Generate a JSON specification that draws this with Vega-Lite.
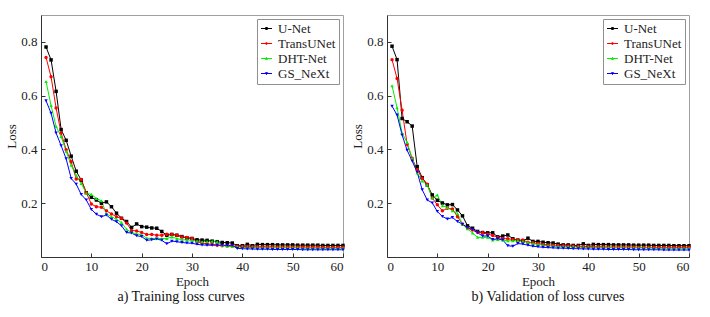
{
"$schema": "https://vega.github.io/schema/vega-lite/v6.json",
"padding": {"left": 5, "top": 14, "right": 5, "bottom": 5},
"background": "white",
"config": {
  "font": "Liberation Serif",
  "view": {"stroke": "#a0a0a0", "strokeWidth": 1},
  "axis": {"labelFont": "Liberation Serif", "titleFont": "Liberation Serif", "labelFontSize": 13, "titleFontSize": 13, "titleFontWeight": "normal", "labelColor": "#222", "titleColor": "#222", "domainColor": "#333", "tickColor": "#333", "grid": false, "tickSize": -4},
  "axisX": {"labelPadding": 7, "titlePadding": 2},
  "axisY": {"labelPadding": 8, "titlePadding": 2},
  "legend": {"labelFont": "Liberation Serif", "labelFontSize": 13, "labelColor": "#222"},
  "title": {"font": "Liberation Serif", "fontSize": 14, "fontWeight": "normal", "orient": "bottom", "color": "#111"}
},
"spacing": 5,
"resolve": {"scale": {"color": "independent"}, "legend": {"color": "independent"}},
"datasets": {
"train": [
{"model":"U-Net","epoch":1,"loss":0.781},{"model":"U-Net","epoch":2,"loss":0.733},{"model":"U-Net","epoch":3,"loss":0.616},{"model":"U-Net","epoch":4,"loss":0.474},{"model":"U-Net","epoch":5,"loss":0.434},{"model":"U-Net","epoch":6,"loss":0.375},{"model":"U-Net","epoch":7,"loss":0.319},{"model":"U-Net","epoch":8,"loss":0.286},{"model":"U-Net","epoch":9,"loss":0.239},{"model":"U-Net","epoch":10,"loss":0.222},
{"model":"U-Net","epoch":11,"loss":0.212},{"model":"U-Net","epoch":12,"loss":0.200},{"model":"U-Net","epoch":13,"loss":0.205},{"model":"U-Net","epoch":14,"loss":0.187},{"model":"U-Net","epoch":15,"loss":0.163},{"model":"U-Net","epoch":16,"loss":0.144},{"model":"U-Net","epoch":17,"loss":0.132},{"model":"U-Net","epoch":18,"loss":0.110},{"model":"U-Net","epoch":19,"loss":0.123},{"model":"U-Net","epoch":20,"loss":0.113},
{"model":"U-Net","epoch":21,"loss":0.111},{"model":"U-Net","epoch":22,"loss":0.108},{"model":"U-Net","epoch":23,"loss":0.107},{"model":"U-Net","epoch":24,"loss":0.095},{"model":"U-Net","epoch":25,"loss":0.081},{"model":"U-Net","epoch":26,"loss":0.084},{"model":"U-Net","epoch":27,"loss":0.081},{"model":"U-Net","epoch":28,"loss":0.076},{"model":"U-Net","epoch":29,"loss":0.071},{"model":"U-Net","epoch":30,"loss":0.069},
{"model":"U-Net","epoch":31,"loss":0.064},{"model":"U-Net","epoch":32,"loss":0.063},{"model":"U-Net","epoch":33,"loss":0.062},{"model":"U-Net","epoch":34,"loss":0.059},{"model":"U-Net","epoch":35,"loss":0.057},{"model":"U-Net","epoch":36,"loss":0.054},{"model":"U-Net","epoch":37,"loss":0.053},{"model":"U-Net","epoch":38,"loss":0.052},{"model":"U-Net","epoch":39,"loss":0.042},{"model":"U-Net","epoch":40,"loss":0.042},
{"model":"U-Net","epoch":41,"loss":0.047},{"model":"U-Net","epoch":42,"loss":0.042},{"model":"U-Net","epoch":43,"loss":0.047},{"model":"U-Net","epoch":44,"loss":0.046},{"model":"U-Net","epoch":45,"loss":0.046},{"model":"U-Net","epoch":46,"loss":0.046},{"model":"U-Net","epoch":47,"loss":0.045},{"model":"U-Net","epoch":48,"loss":0.045},{"model":"U-Net","epoch":49,"loss":0.045},{"model":"U-Net","epoch":50,"loss":0.045},
{"model":"U-Net","epoch":51,"loss":0.044},{"model":"U-Net","epoch":52,"loss":0.044},{"model":"U-Net","epoch":53,"loss":0.044},{"model":"U-Net","epoch":54,"loss":0.044},{"model":"U-Net","epoch":55,"loss":0.044},{"model":"U-Net","epoch":56,"loss":0.043},{"model":"U-Net","epoch":57,"loss":0.043},{"model":"U-Net","epoch":58,"loss":0.043},{"model":"U-Net","epoch":59,"loss":0.043},{"model":"U-Net","epoch":60,"loss":0.043},
{"model":"TransUNet","epoch":1,"loss":0.742},{"model":"TransUNet","epoch":2,"loss":0.670},{"model":"TransUNet","epoch":3,"loss":0.554},{"model":"TransUNet","epoch":4,"loss":0.461},{"model":"TransUNet","epoch":5,"loss":0.399},{"model":"TransUNet","epoch":6,"loss":0.354},{"model":"TransUNet","epoch":7,"loss":0.290},{"model":"TransUNet","epoch":8,"loss":0.288},{"model":"TransUNet","epoch":9,"loss":0.239},{"model":"TransUNet","epoch":10,"loss":0.197},
{"model":"TransUNet","epoch":11,"loss":0.187},{"model":"TransUNet","epoch":12,"loss":0.185},{"model":"TransUNet","epoch":13,"loss":0.172},{"model":"TransUNet","epoch":14,"loss":0.160},{"model":"TransUNet","epoch":15,"loss":0.150},{"model":"TransUNet","epoch":16,"loss":0.143},{"model":"TransUNet","epoch":17,"loss":0.126},{"model":"TransUNet","epoch":18,"loss":0.099},{"model":"TransUNet","epoch":19,"loss":0.097},{"model":"TransUNet","epoch":20,"loss":0.091},
{"model":"TransUNet","epoch":21,"loss":0.084},{"model":"TransUNet","epoch":22,"loss":0.084},{"model":"TransUNet","epoch":23,"loss":0.081},{"model":"TransUNet","epoch":24,"loss":0.081},{"model":"TransUNet","epoch":25,"loss":0.085},{"model":"TransUNet","epoch":26,"loss":0.084},{"model":"TransUNet","epoch":27,"loss":0.081},{"model":"TransUNet","epoch":28,"loss":0.074},{"model":"TransUNet","epoch":29,"loss":0.073},{"model":"TransUNet","epoch":30,"loss":0.069},
{"model":"TransUNet","epoch":31,"loss":0.057},{"model":"TransUNet","epoch":32,"loss":0.052},{"model":"TransUNet","epoch":33,"loss":0.049},{"model":"TransUNet","epoch":34,"loss":0.047},{"model":"TransUNet","epoch":35,"loss":0.044},{"model":"TransUNet","epoch":36,"loss":0.042},{"model":"TransUNet","epoch":37,"loss":0.042},{"model":"TransUNet","epoch":38,"loss":0.041},{"model":"TransUNet","epoch":39,"loss":0.040},{"model":"TransUNet","epoch":40,"loss":0.039},
{"model":"TransUNet","epoch":41,"loss":0.039},{"model":"TransUNet","epoch":42,"loss":0.038},{"model":"TransUNet","epoch":43,"loss":0.038},{"model":"TransUNet","epoch":44,"loss":0.038},{"model":"TransUNet","epoch":45,"loss":0.038},{"model":"TransUNet","epoch":46,"loss":0.038},{"model":"TransUNet","epoch":47,"loss":0.037},{"model":"TransUNet","epoch":48,"loss":0.037},{"model":"TransUNet","epoch":49,"loss":0.037},{"model":"TransUNet","epoch":50,"loss":0.037},
{"model":"TransUNet","epoch":51,"loss":0.037},{"model":"TransUNet","epoch":52,"loss":0.037},{"model":"TransUNet","epoch":53,"loss":0.037},{"model":"TransUNet","epoch":54,"loss":0.037},{"model":"TransUNet","epoch":55,"loss":0.037},{"model":"TransUNet","epoch":56,"loss":0.036},{"model":"TransUNet","epoch":57,"loss":0.036},{"model":"TransUNet","epoch":58,"loss":0.036},{"model":"TransUNet","epoch":59,"loss":0.036},{"model":"TransUNet","epoch":60,"loss":0.036},
{"model":"DHT-Net","epoch":1,"loss":0.653},{"model":"DHT-Net","epoch":2,"loss":0.563},{"model":"DHT-Net","epoch":3,"loss":0.485},{"model":"DHT-Net","epoch":4,"loss":0.448},{"model":"DHT-Net","epoch":5,"loss":0.393},{"model":"DHT-Net","epoch":6,"loss":0.341},{"model":"DHT-Net","epoch":7,"loss":0.304},{"model":"DHT-Net","epoch":8,"loss":0.273},{"model":"DHT-Net","epoch":9,"loss":0.237},{"model":"DHT-Net","epoch":10,"loss":0.233},
{"model":"DHT-Net","epoch":11,"loss":0.218},{"model":"DHT-Net","epoch":12,"loss":0.209},{"model":"DHT-Net","epoch":13,"loss":0.160},{"model":"DHT-Net","epoch":14,"loss":0.150},{"model":"DHT-Net","epoch":15,"loss":0.140},{"model":"DHT-Net","epoch":16,"loss":0.128},{"model":"DHT-Net","epoch":17,"loss":0.103},{"model":"DHT-Net","epoch":18,"loss":0.091},{"model":"DHT-Net","epoch":19,"loss":0.086},{"model":"DHT-Net","epoch":20,"loss":0.083},
{"model":"DHT-Net","epoch":21,"loss":0.070},{"model":"DHT-Net","epoch":22,"loss":0.069},{"model":"DHT-Net","epoch":23,"loss":0.069},{"model":"DHT-Net","epoch":24,"loss":0.069},{"model":"DHT-Net","epoch":25,"loss":0.069},{"model":"DHT-Net","epoch":26,"loss":0.074},{"model":"DHT-Net","epoch":27,"loss":0.069},{"model":"DHT-Net","epoch":28,"loss":0.064},{"model":"DHT-Net","epoch":29,"loss":0.064},{"model":"DHT-Net","epoch":30,"loss":0.062},
{"model":"DHT-Net","epoch":31,"loss":0.059},{"model":"DHT-Net","epoch":32,"loss":0.057},{"model":"DHT-Net","epoch":33,"loss":0.058},{"model":"DHT-Net","epoch":34,"loss":0.059},{"model":"DHT-Net","epoch":35,"loss":0.057},{"model":"DHT-Net","epoch":36,"loss":0.044},{"model":"DHT-Net","epoch":37,"loss":0.040},{"model":"DHT-Net","epoch":38,"loss":0.039},{"model":"DHT-Net","epoch":39,"loss":0.038},{"model":"DHT-Net","epoch":40,"loss":0.036},
{"model":"DHT-Net","epoch":41,"loss":0.035},{"model":"DHT-Net","epoch":42,"loss":0.035},{"model":"DHT-Net","epoch":43,"loss":0.035},{"model":"DHT-Net","epoch":44,"loss":0.034},{"model":"DHT-Net","epoch":45,"loss":0.034},{"model":"DHT-Net","epoch":46,"loss":0.034},{"model":"DHT-Net","epoch":47,"loss":0.034},{"model":"DHT-Net","epoch":48,"loss":0.034},{"model":"DHT-Net","epoch":49,"loss":0.034},{"model":"DHT-Net","epoch":50,"loss":0.034},
{"model":"DHT-Net","epoch":51,"loss":0.034},{"model":"DHT-Net","epoch":52,"loss":0.033},{"model":"DHT-Net","epoch":53,"loss":0.033},{"model":"DHT-Net","epoch":54,"loss":0.033},{"model":"DHT-Net","epoch":55,"loss":0.033},{"model":"DHT-Net","epoch":56,"loss":0.033},{"model":"DHT-Net","epoch":57,"loss":0.033},{"model":"DHT-Net","epoch":58,"loss":0.033},{"model":"DHT-Net","epoch":59,"loss":0.033},{"model":"DHT-Net","epoch":60,"loss":0.033},
{"model":"GS_NeXt","epoch":1,"loss":0.581},{"model":"GS_NeXt","epoch":2,"loss":0.535},{"model":"GS_NeXt","epoch":3,"loss":0.461},{"model":"GS_NeXt","epoch":4,"loss":0.414},{"model":"GS_NeXt","epoch":5,"loss":0.365},{"model":"GS_NeXt","epoch":6,"loss":0.292},{"model":"GS_NeXt","epoch":7,"loss":0.271},{"model":"GS_NeXt","epoch":8,"loss":0.232},{"model":"GS_NeXt","epoch":9,"loss":0.212},{"model":"GS_NeXt","epoch":10,"loss":0.177},
{"model":"GS_NeXt","epoch":11,"loss":0.159},{"model":"GS_NeXt","epoch":12,"loss":0.150},{"model":"GS_NeXt","epoch":13,"loss":0.156},{"model":"GS_NeXt","epoch":14,"loss":0.140},{"model":"GS_NeXt","epoch":15,"loss":0.131},{"model":"GS_NeXt","epoch":16,"loss":0.116},{"model":"GS_NeXt","epoch":17,"loss":0.091},{"model":"GS_NeXt","epoch":18,"loss":0.089},{"model":"GS_NeXt","epoch":19,"loss":0.079},{"model":"GS_NeXt","epoch":20,"loss":0.076},
{"model":"GS_NeXt","epoch":21,"loss":0.062},{"model":"GS_NeXt","epoch":22,"loss":0.064},{"model":"GS_NeXt","epoch":23,"loss":0.067},{"model":"GS_NeXt","epoch":24,"loss":0.062},{"model":"GS_NeXt","epoch":25,"loss":0.049},{"model":"GS_NeXt","epoch":26,"loss":0.059},{"model":"GS_NeXt","epoch":27,"loss":0.057},{"model":"GS_NeXt","epoch":28,"loss":0.054},{"model":"GS_NeXt","epoch":29,"loss":0.052},{"model":"GS_NeXt","epoch":30,"loss":0.051},
{"model":"GS_NeXt","epoch":31,"loss":0.047},{"model":"GS_NeXt","epoch":32,"loss":0.045},{"model":"GS_NeXt","epoch":33,"loss":0.044},{"model":"GS_NeXt","epoch":34,"loss":0.044},{"model":"GS_NeXt","epoch":35,"loss":0.044},{"model":"GS_NeXt","epoch":36,"loss":0.044},{"model":"GS_NeXt","epoch":37,"loss":0.043},{"model":"GS_NeXt","epoch":38,"loss":0.043},{"model":"GS_NeXt","epoch":39,"loss":0.032},{"model":"GS_NeXt","epoch":40,"loss":0.031},
{"model":"GS_NeXt","epoch":41,"loss":0.030},{"model":"GS_NeXt","epoch":42,"loss":0.030},{"model":"GS_NeXt","epoch":43,"loss":0.029},{"model":"GS_NeXt","epoch":44,"loss":0.029},{"model":"GS_NeXt","epoch":45,"loss":0.029},{"model":"GS_NeXt","epoch":46,"loss":0.028},{"model":"GS_NeXt","epoch":47,"loss":0.028},{"model":"GS_NeXt","epoch":48,"loss":0.028},{"model":"GS_NeXt","epoch":49,"loss":0.028},{"model":"GS_NeXt","epoch":50,"loss":0.028},
{"model":"GS_NeXt","epoch":51,"loss":0.028},{"model":"GS_NeXt","epoch":52,"loss":0.027},{"model":"GS_NeXt","epoch":53,"loss":0.027},{"model":"GS_NeXt","epoch":54,"loss":0.027},{"model":"GS_NeXt","epoch":55,"loss":0.027},{"model":"GS_NeXt","epoch":56,"loss":0.027},{"model":"GS_NeXt","epoch":57,"loss":0.027},{"model":"GS_NeXt","epoch":58,"loss":0.027},{"model":"GS_NeXt","epoch":59,"loss":0.027},{"model":"GS_NeXt","epoch":60,"loss":0.027}
],
"val": [
{"model":"U-Net","epoch":1,"loss":0.784},{"model":"U-Net","epoch":2,"loss":0.734},{"model":"U-Net","epoch":3,"loss":0.515},{"model":"U-Net","epoch":4,"loss":0.503},{"model":"U-Net","epoch":5,"loss":0.487},{"model":"U-Net","epoch":6,"loss":0.336},{"model":"U-Net","epoch":7,"loss":0.295},{"model":"U-Net","epoch":8,"loss":0.268},{"model":"U-Net","epoch":9,"loss":0.231},{"model":"U-Net","epoch":10,"loss":0.211},
{"model":"U-Net","epoch":11,"loss":0.201},{"model":"U-Net","epoch":12,"loss":0.194},{"model":"U-Net","epoch":13,"loss":0.195},{"model":"U-Net","epoch":14,"loss":0.175},{"model":"U-Net","epoch":15,"loss":0.153},{"model":"U-Net","epoch":16,"loss":0.116},{"model":"U-Net","epoch":17,"loss":0.107},{"model":"U-Net","epoch":18,"loss":0.095},{"model":"U-Net","epoch":19,"loss":0.091},{"model":"U-Net","epoch":20,"loss":0.090},
{"model":"U-Net","epoch":21,"loss":0.090},{"model":"U-Net","epoch":22,"loss":0.075},{"model":"U-Net","epoch":23,"loss":0.078},{"model":"U-Net","epoch":24,"loss":0.082},{"model":"U-Net","epoch":25,"loss":0.068},{"model":"U-Net","epoch":26,"loss":0.063},{"model":"U-Net","epoch":27,"loss":0.060},{"model":"U-Net","epoch":28,"loss":0.070},{"model":"U-Net","epoch":29,"loss":0.058},{"model":"U-Net","epoch":30,"loss":0.058},
{"model":"U-Net","epoch":31,"loss":0.055},{"model":"U-Net","epoch":32,"loss":0.053},{"model":"U-Net","epoch":33,"loss":0.052},{"model":"U-Net","epoch":34,"loss":0.048},{"model":"U-Net","epoch":35,"loss":0.045},{"model":"U-Net","epoch":36,"loss":0.045},{"model":"U-Net","epoch":37,"loss":0.043},{"model":"U-Net","epoch":38,"loss":0.043},{"model":"U-Net","epoch":39,"loss":0.049},{"model":"U-Net","epoch":40,"loss":0.043},
{"model":"U-Net","epoch":41,"loss":0.047},{"model":"U-Net","epoch":42,"loss":0.046},{"model":"U-Net","epoch":43,"loss":0.046},{"model":"U-Net","epoch":44,"loss":0.046},{"model":"U-Net","epoch":45,"loss":0.045},{"model":"U-Net","epoch":46,"loss":0.045},{"model":"U-Net","epoch":47,"loss":0.045},{"model":"U-Net","epoch":48,"loss":0.045},{"model":"U-Net","epoch":49,"loss":0.044},{"model":"U-Net","epoch":50,"loss":0.044},
{"model":"U-Net","epoch":51,"loss":0.044},{"model":"U-Net","epoch":52,"loss":0.044},{"model":"U-Net","epoch":53,"loss":0.043},{"model":"U-Net","epoch":54,"loss":0.043},{"model":"U-Net","epoch":55,"loss":0.043},{"model":"U-Net","epoch":56,"loss":0.043},{"model":"U-Net","epoch":57,"loss":0.042},{"model":"U-Net","epoch":58,"loss":0.042},{"model":"U-Net","epoch":59,"loss":0.042},{"model":"U-Net","epoch":60,"loss":0.042},
{"model":"TransUNet","epoch":1,"loss":0.734},{"model":"TransUNet","epoch":2,"loss":0.664},{"model":"TransUNet","epoch":3,"loss":0.546},{"model":"TransUNet","epoch":4,"loss":0.419},{"model":"TransUNet","epoch":5,"loss":0.367},{"model":"TransUNet","epoch":6,"loss":0.324},{"model":"TransUNet","epoch":7,"loss":0.293},{"model":"TransUNet","epoch":8,"loss":0.271},{"model":"TransUNet","epoch":9,"loss":0.219},{"model":"TransUNet","epoch":10,"loss":0.194},
{"model":"TransUNet","epoch":11,"loss":0.172},{"model":"TransUNet","epoch":12,"loss":0.181},{"model":"TransUNet","epoch":13,"loss":0.179},{"model":"TransUNet","epoch":14,"loss":0.150},{"model":"TransUNet","epoch":15,"loss":0.122},{"model":"TransUNet","epoch":16,"loss":0.107},{"model":"TransUNet","epoch":17,"loss":0.100},{"model":"TransUNet","epoch":18,"loss":0.092},{"model":"TransUNet","epoch":19,"loss":0.090},{"model":"TransUNet","epoch":20,"loss":0.085},
{"model":"TransUNet","epoch":21,"loss":0.080},{"model":"TransUNet","epoch":22,"loss":0.073},{"model":"TransUNet","epoch":23,"loss":0.068},{"model":"TransUNet","epoch":24,"loss":0.068},{"model":"TransUNet","epoch":25,"loss":0.065},{"model":"TransUNet","epoch":26,"loss":0.063},{"model":"TransUNet","epoch":27,"loss":0.063},{"model":"TransUNet","epoch":28,"loss":0.055},{"model":"TransUNet","epoch":29,"loss":0.053},{"model":"TransUNet","epoch":30,"loss":0.050},
{"model":"TransUNet","epoch":31,"loss":0.047},{"model":"TransUNet","epoch":32,"loss":0.045},{"model":"TransUNet","epoch":33,"loss":0.044},{"model":"TransUNet","epoch":34,"loss":0.043},{"model":"TransUNet","epoch":35,"loss":0.042},{"model":"TransUNet","epoch":36,"loss":0.041},{"model":"TransUNet","epoch":37,"loss":0.040},{"model":"TransUNet","epoch":38,"loss":0.040},{"model":"TransUNet","epoch":39,"loss":0.039},{"model":"TransUNet","epoch":40,"loss":0.039},
{"model":"TransUNet","epoch":41,"loss":0.038},{"model":"TransUNet","epoch":42,"loss":0.038},{"model":"TransUNet","epoch":43,"loss":0.038},{"model":"TransUNet","epoch":44,"loss":0.037},{"model":"TransUNet","epoch":45,"loss":0.037},{"model":"TransUNet","epoch":46,"loss":0.037},{"model":"TransUNet","epoch":47,"loss":0.037},{"model":"TransUNet","epoch":48,"loss":0.037},{"model":"TransUNet","epoch":49,"loss":0.037},{"model":"TransUNet","epoch":50,"loss":0.036},
{"model":"TransUNet","epoch":51,"loss":0.036},{"model":"TransUNet","epoch":52,"loss":0.036},{"model":"TransUNet","epoch":53,"loss":0.036},{"model":"TransUNet","epoch":54,"loss":0.036},{"model":"TransUNet","epoch":55,"loss":0.036},{"model":"TransUNet","epoch":56,"loss":0.036},{"model":"TransUNet","epoch":57,"loss":0.036},{"model":"TransUNet","epoch":58,"loss":0.036},{"model":"TransUNet","epoch":59,"loss":0.036},{"model":"TransUNet","epoch":60,"loss":0.036},
{"model":"DHT-Net","epoch":1,"loss":0.637},{"model":"DHT-Net","epoch":2,"loss":0.555},{"model":"DHT-Net","epoch":3,"loss":0.460},{"model":"DHT-Net","epoch":4,"loss":0.426},{"model":"DHT-Net","epoch":5,"loss":0.367},{"model":"DHT-Net","epoch":6,"loss":0.312},{"model":"DHT-Net","epoch":7,"loss":0.283},{"model":"DHT-Net","epoch":8,"loss":0.268},{"model":"DHT-Net","epoch":9,"loss":0.219},{"model":"DHT-Net","epoch":10,"loss":0.231},
{"model":"DHT-Net","epoch":11,"loss":0.191},{"model":"DHT-Net","epoch":12,"loss":0.184},{"model":"DHT-Net","epoch":13,"loss":0.172},{"model":"DHT-Net","epoch":14,"loss":0.162},{"model":"DHT-Net","epoch":15,"loss":0.122},{"model":"DHT-Net","epoch":16,"loss":0.105},{"model":"DHT-Net","epoch":17,"loss":0.089},{"model":"DHT-Net","epoch":18,"loss":0.073},{"model":"DHT-Net","epoch":19,"loss":0.073},{"model":"DHT-Net","epoch":20,"loss":0.073},
{"model":"DHT-Net","epoch":21,"loss":0.063},{"model":"DHT-Net","epoch":22,"loss":0.065},{"model":"DHT-Net","epoch":23,"loss":0.063},{"model":"DHT-Net","epoch":24,"loss":0.060},{"model":"DHT-Net","epoch":25,"loss":0.060},{"model":"DHT-Net","epoch":26,"loss":0.060},{"model":"DHT-Net","epoch":27,"loss":0.058},{"model":"DHT-Net","epoch":28,"loss":0.055},{"model":"DHT-Net","epoch":29,"loss":0.050},{"model":"DHT-Net","epoch":30,"loss":0.047},
{"model":"DHT-Net","epoch":31,"loss":0.044},{"model":"DHT-Net","epoch":32,"loss":0.042},{"model":"DHT-Net","epoch":33,"loss":0.041},{"model":"DHT-Net","epoch":34,"loss":0.040},{"model":"DHT-Net","epoch":35,"loss":0.039},{"model":"DHT-Net","epoch":36,"loss":0.038},{"model":"DHT-Net","epoch":37,"loss":0.038},{"model":"DHT-Net","epoch":38,"loss":0.037},{"model":"DHT-Net","epoch":39,"loss":0.036},{"model":"DHT-Net","epoch":40,"loss":0.036},
{"model":"DHT-Net","epoch":41,"loss":0.035},{"model":"DHT-Net","epoch":42,"loss":0.035},{"model":"DHT-Net","epoch":43,"loss":0.035},{"model":"DHT-Net","epoch":44,"loss":0.035},{"model":"DHT-Net","epoch":45,"loss":0.034},{"model":"DHT-Net","epoch":46,"loss":0.034},{"model":"DHT-Net","epoch":47,"loss":0.034},{"model":"DHT-Net","epoch":48,"loss":0.034},{"model":"DHT-Net","epoch":49,"loss":0.034},{"model":"DHT-Net","epoch":50,"loss":0.034},
{"model":"DHT-Net","epoch":51,"loss":0.034},{"model":"DHT-Net","epoch":52,"loss":0.034},{"model":"DHT-Net","epoch":53,"loss":0.033},{"model":"DHT-Net","epoch":54,"loss":0.033},{"model":"DHT-Net","epoch":55,"loss":0.033},{"model":"DHT-Net","epoch":56,"loss":0.033},{"model":"DHT-Net","epoch":57,"loss":0.033},{"model":"DHT-Net","epoch":58,"loss":0.033},{"model":"DHT-Net","epoch":59,"loss":0.033},{"model":"DHT-Net","epoch":60,"loss":0.033},
{"model":"GS_NeXt","epoch":1,"loss":0.561},{"model":"GS_NeXt","epoch":2,"loss":0.528},{"model":"GS_NeXt","epoch":3,"loss":0.454},{"model":"GS_NeXt","epoch":4,"loss":0.397},{"model":"GS_NeXt","epoch":5,"loss":0.357},{"model":"GS_NeXt","epoch":6,"loss":0.315},{"model":"GS_NeXt","epoch":7,"loss":0.250},{"model":"GS_NeXt","epoch":8,"loss":0.212},{"model":"GS_NeXt","epoch":9,"loss":0.201},{"model":"GS_NeXt","epoch":10,"loss":0.169},
{"model":"GS_NeXt","epoch":11,"loss":0.151},{"model":"GS_NeXt","epoch":12,"loss":0.141},{"model":"GS_NeXt","epoch":13,"loss":0.147},{"model":"GS_NeXt","epoch":14,"loss":0.132},{"model":"GS_NeXt","epoch":15,"loss":0.122},{"model":"GS_NeXt","epoch":16,"loss":0.110},{"model":"GS_NeXt","epoch":17,"loss":0.102},{"model":"GS_NeXt","epoch":18,"loss":0.090},{"model":"GS_NeXt","epoch":19,"loss":0.078},{"model":"GS_NeXt","epoch":20,"loss":0.078},
{"model":"GS_NeXt","epoch":21,"loss":0.065},{"model":"GS_NeXt","epoch":22,"loss":0.068},{"model":"GS_NeXt","epoch":23,"loss":0.063},{"model":"GS_NeXt","epoch":24,"loss":0.042},{"model":"GS_NeXt","epoch":25,"loss":0.040},{"model":"GS_NeXt","epoch":26,"loss":0.050},{"model":"GS_NeXt","epoch":27,"loss":0.048},{"model":"GS_NeXt","epoch":28,"loss":0.044},{"model":"GS_NeXt","epoch":29,"loss":0.040},{"model":"GS_NeXt","epoch":30,"loss":0.038},
{"model":"GS_NeXt","epoch":31,"loss":0.036},{"model":"GS_NeXt","epoch":32,"loss":0.035},{"model":"GS_NeXt","epoch":33,"loss":0.034},{"model":"GS_NeXt","epoch":34,"loss":0.033},{"model":"GS_NeXt","epoch":35,"loss":0.033},{"model":"GS_NeXt","epoch":36,"loss":0.032},{"model":"GS_NeXt","epoch":37,"loss":0.031},{"model":"GS_NeXt","epoch":38,"loss":0.031},{"model":"GS_NeXt","epoch":39,"loss":0.030},{"model":"GS_NeXt","epoch":40,"loss":0.030},
{"model":"GS_NeXt","epoch":41,"loss":0.029},{"model":"GS_NeXt","epoch":42,"loss":0.029},{"model":"GS_NeXt","epoch":43,"loss":0.029},{"model":"GS_NeXt","epoch":44,"loss":0.028},{"model":"GS_NeXt","epoch":45,"loss":0.028},{"model":"GS_NeXt","epoch":46,"loss":0.028},{"model":"GS_NeXt","epoch":47,"loss":0.028},{"model":"GS_NeXt","epoch":48,"loss":0.028},{"model":"GS_NeXt","epoch":49,"loss":0.027},{"model":"GS_NeXt","epoch":50,"loss":0.027},
{"model":"GS_NeXt","epoch":51,"loss":0.027},{"model":"GS_NeXt","epoch":52,"loss":0.027},{"model":"GS_NeXt","epoch":53,"loss":0.027},{"model":"GS_NeXt","epoch":54,"loss":0.027},{"model":"GS_NeXt","epoch":55,"loss":0.026},{"model":"GS_NeXt","epoch":56,"loss":0.026},{"model":"GS_NeXt","epoch":57,"loss":0.026},{"model":"GS_NeXt","epoch":58,"loss":0.026},{"model":"GS_NeXt","epoch":59,"loss":0.026},{"model":"GS_NeXt","epoch":60,"loss":0.026}
]
},
"hconcat": [
{
  "width": 302, "height": 242,
  "data": {"name": "train"},
  "title": {"text": "a) Training loss curves", "dx": -11, "offset": 2},
  "encoding": {
    "x": {"field": "epoch", "type": "quantitative", "scale": {"domain": [0, 60], "nice": false}, "axis": {"values": [0, 10, 20, 30, 40, 50, 60], "title": "Epoch"}},
    "y": {"field": "loss", "type": "quantitative", "scale": {"domain": [0, 0.9], "nice": false}, "axis": {"values": [0.2, 0.4, 0.6, 0.8], "format": ".1f", "title": "Loss"}},
    "color": {"field": "model", "type": "nominal", "scale": {"domain": ["U-Net", "TransUNet", "DHT-Net", "GS_NeXt"], "range": ["#000000", "#ff0000", "#00f000", "#0000ff"]},
      "legend": {"title": null, "orient": "top-right", "offset": 4, "strokeColor": "#909090", "padding": 3, "symbolSize": 121, "symbolStrokeWidth": 1, "rowPadding": 1, "labelOffset": 5,
        "encode": {"symbols": {"update": {
          "shape": {"signal": "datum.value==='U-Net'?'M-1,0H1M-0.17,-0.17H0.17V0.17H-0.17Z':datum.value==='TransUNet'?'M-1,0H1M-0.17,0A0.17,0.17 0 1,0 0.17,0A0.17,0.17 0 1,0 -0.17,0Z':datum.value==='DHT-Net'?'M-1,0H1M0,-0.2L0.2,0.15L-0.2,0.15Z':'M-1,0H1M0,0.2L0.2,-0.15L-0.2,-0.15Z'"},
          "fill": {"signal": "datum.value==='U-Net'?'#000000':datum.value==='TransUNet'?'#ff0000':datum.value==='DHT-Net'?'#00f000':'#0000ff'"},
          "fillOpacity": {"value": 1}, "opacity": {"value": 1}}}}}}
  },
  "layer": [
    {"mark": {"type": "line", "strokeWidth": 1}},
    {"transform": [{"filter": {"field": "model", "equal": "U-Net"}}], "mark": {"type": "point", "shape": "square", "filled": true, "size": 12, "opacity": 1}},
    {"transform": [{"filter": {"field": "model", "equal": "TransUNet"}}], "mark": {"type": "point", "shape": "circle", "filled": true, "size": 12, "opacity": 1}},
    {"transform": [{"filter": {"field": "model", "equal": "DHT-Net"}}], "mark": {"type": "point", "shape": "triangle-up", "filled": true, "size": 12, "opacity": 1}},
    {"transform": [{"filter": {"field": "model", "equal": "GS_NeXt"}}], "mark": {"type": "point", "shape": "triangle-down", "filled": true, "size": 12, "opacity": 1}}
  ]
},
{
  "width": 302, "height": 242,
  "data": {"name": "val"},
  "title": {"text": "b) Validation of loss curves", "dx": 10, "offset": 2},
  "encoding": {
    "x": {"field": "epoch", "type": "quantitative", "scale": {"domain": [0, 60], "nice": false}, "axis": {"values": [0, 10, 20, 30, 40, 50, 60], "title": "Epoch"}},
    "y": {"field": "loss", "type": "quantitative", "scale": {"domain": [0, 0.9], "nice": false}, "axis": {"values": [0.2, 0.4, 0.6, 0.8], "format": ".1f", "title": "Loss"}},
    "color": {"field": "model", "type": "nominal", "scale": {"domain": ["U-Net", "TransUNet", "DHT-Net", "GS_NeXt"], "range": ["#000000", "#ff0000", "#00f000", "#0000ff"]},
      "legend": {"title": null, "orient": "top-right", "offset": 4, "strokeColor": "#909090", "padding": 3, "symbolSize": 121, "symbolStrokeWidth": 1, "rowPadding": 1, "labelOffset": 5,
        "encode": {"symbols": {"update": {
          "shape": {"signal": "datum.value==='U-Net'?'M-1,0H1M-0.17,-0.17H0.17V0.17H-0.17Z':datum.value==='TransUNet'?'M-1,0H1M-0.17,0A0.17,0.17 0 1,0 0.17,0A0.17,0.17 0 1,0 -0.17,0Z':datum.value==='DHT-Net'?'M-1,0H1M0,-0.2L0.2,0.15L-0.2,0.15Z':'M-1,0H1M0,0.2L0.2,-0.15L-0.2,-0.15Z'"},
          "fill": {"signal": "datum.value==='U-Net'?'#000000':datum.value==='TransUNet'?'#ff0000':datum.value==='DHT-Net'?'#00f000':'#0000ff'"},
          "fillOpacity": {"value": 1}, "opacity": {"value": 1}}}}}}
  },
  "layer": [
    {"mark": {"type": "line", "strokeWidth": 1}},
    {"transform": [{"filter": {"field": "model", "equal": "U-Net"}}], "mark": {"type": "point", "shape": "square", "filled": true, "size": 12, "opacity": 1}},
    {"transform": [{"filter": {"field": "model", "equal": "TransUNet"}}], "mark": {"type": "point", "shape": "circle", "filled": true, "size": 12, "opacity": 1}},
    {"transform": [{"filter": {"field": "model", "equal": "DHT-Net"}}], "mark": {"type": "point", "shape": "triangle-up", "filled": true, "size": 12, "opacity": 1}},
    {"transform": [{"filter": {"field": "model", "equal": "GS_NeXt"}}], "mark": {"type": "point", "shape": "triangle-down", "filled": true, "size": 12, "opacity": 1}}
  ]
}
]
}
